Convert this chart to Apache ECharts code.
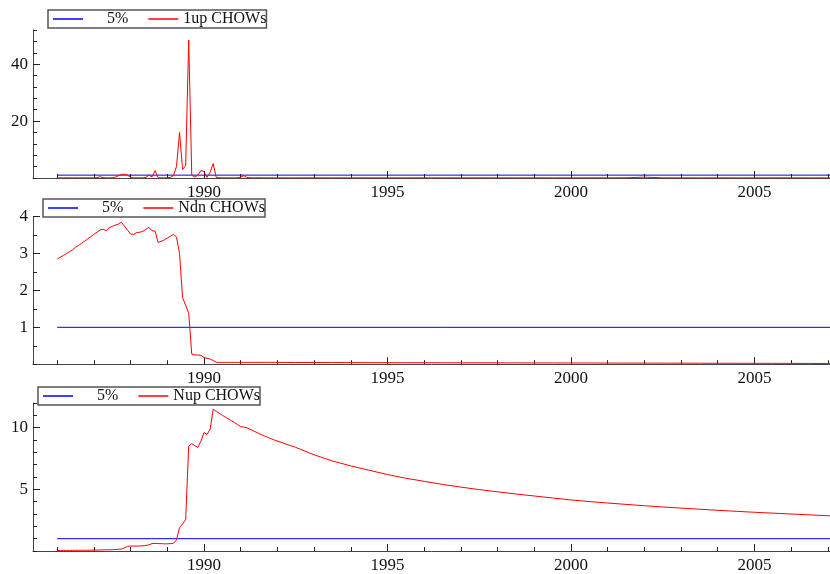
<!DOCTYPE html>
<html><head><meta charset="utf-8">
<script src="https://cdn.jsdelivr.net/npm/echarts@6/dist/echarts.min.js"></script>
<style>html,body{margin:0;padding:0;background:#fff}#c{width:830px;height:574px}</style>
</head><body><div id="c"></div>
<script>
// ---- data ----
const startYear = 1986;            // first monthly observation: 1986(1)
const critYears = [1986, 2007.08]; // 5% critical value line (scaled to 1)
const crit5 = [1, 1];
// tail observations (read at half-year steps after 1992)
const tailYears = [1992.5, 1993, 1993.5, 1994, 1994.5, 1995, 1995.5, 1996, 1996.5, 1997,
  1997.5, 1998, 1998.5, 1999, 1999.5, 2000, 2000.5, 2001, 2001.5, 2002,
  2002.5, 2003, 2003.5, 2004, 2004.5, 2005, 2005.5, 2006, 2006.5, 2007, 2007.08];

// 1-step (1up) Chow tests, monthly 1986(1)-1991(12)
const upMonthly = [
  0.08, 0.05, 0.06, 0.1, 0.05, 0.06, 0.08, 0.05, 0.06, 0.1, 0.05, 0.06,
  0.05, 0.1, 0.45, 0.15, 0.05, 0.05, 0.1, 0.3, 0.8, 1.3, 1.3, 1.1,
  0.15, 0.05, 0.1, 0.05, 0.05, 0.2, 1.0, 0.4, 2.6, 0.1, 0.05, 0.05,
  0.1, 0.2, 0.8, 4.0, 16.0, 3.0, 4.3, 48.5, 1.0, 0.3, 1.0, 2.6,
  2.3, 0.2, 2.0, 5.1, 0.2, 0.1, 0.05, 0.05, 0.1, 0.05, 0.05, 0.1,
  0.3, 0.8, 0.2, 0.1, 0.05, 0.05, 0.1, 0.05, 0.05, 0.05, 0.1, 0.05];
const upTail = [0.05, 0.06, 0.05, 0.05, 0.06, 0.05, 0.05, 0.06, 0.05, 0.05,
  0.06, 0.05, 0.05, 0.06, 0.05, 0.05, 0.06, 0.05, 0.08, 0.3, 0.06, 0.05,
  0.05, 0.06, 0.05, 0.05, 0.06, 0.05, 0.05, 0.05, 0.05];

// break-point (Ndn) Chow tests
const ndnMonthly = [
  2.85, 2.9, 2.95, 3.0, 3.05, 3.1, 3.17, 3.22, 3.28, 3.34, 3.4, 3.46,
  3.52, 3.58, 3.64, 3.66, 3.62, 3.7, 3.74, 3.77, 3.8, 3.85, 3.74, 3.63,
  3.53, 3.52, 3.57, 3.58, 3.6, 3.66, 3.71, 3.62, 3.61, 3.3, 3.33, 3.37,
  3.42, 3.47, 3.52, 3.45, 3.0, 1.8, 1.6, 1.38, 0.27, 0.25, 0.25, 0.24,
  0.18, 0.16, 0.14, 0.1, 0.05, 0.05, 0.05, 0.05, 0.05, 0.05, 0.05, 0.05,
  0.05, 0.05, 0.05, 0.05, 0.05, 0.05, 0.05, 0.05, 0.05, 0.05, 0.05, 0.05];
const ndnTail = [0.045, 0.045, 0.044, 0.043, 0.042, 0.041, 0.04, 0.04, 0.039, 0.038,
  0.037, 0.036, 0.035, 0.034, 0.034, 0.033, 0.032, 0.031, 0.03, 0.03,
  0.029, 0.028, 0.027, 0.026, 0.025, 0.024, 0.023, 0.022, 0.021, 0.02, 0.02];

// forecast (Nup) Chow tests
const nupMonthly = [
  0.05, 0.05, 0.05, 0.05, 0.05, 0.05, 0.06, 0.06, 0.06, 0.06, 0.06, 0.07,
  0.07, 0.08, 0.08, 0.09, 0.1, 0.1, 0.11, 0.12, 0.14, 0.16, 0.25, 0.38,
  0.4, 0.4, 0.4, 0.41, 0.42, 0.45, 0.5, 0.6, 0.62, 0.6, 0.6, 0.58,
  0.58, 0.6, 0.62, 0.9, 1.9, 2.2, 2.55, 8.5, 8.7, 8.55, 8.4, 8.9,
  9.6, 9.45, 9.87, 11.49, 11.33, 11.17, 11.0, 10.85, 10.7, 10.55, 10.4, 10.25,
  10.08, 10.05, 10.0, 9.88, 9.76, 9.64, 9.52, 9.41, 9.3, 9.2, 9.1, 9.0];
const nupTail = [8.4, 7.8, 7.3, 6.9, 6.55, 6.2, 5.9, 5.65, 5.4, 5.18,
  4.98, 4.8, 4.62, 4.46, 4.3, 4.14, 4.01, 3.89, 3.78, 3.67,
  3.57, 3.48, 3.39, 3.3, 3.22, 3.14, 3.07, 3.0, 2.93, 2.86, 2.84];

const minorYearTicks = [1986, 1987, 1988, 1989, 1990, 1991, 1992, 1993, 1994, 1995, 1996,
  1997, 1998, 1999, 2000, 2001, 2002, 2003, 2004, 2005, 2006, 2007];
const majorYearTicks = [1990, 1995, 2000, 2005];
const yLabels = [[20, 40], [1, 2, 3, 4], [5, 10]];
const yMax = [52, 4, 12];
const yMinorStep = [4, 0.5, 1];
const redNames = ['1up CHOWs', 'Ndn CHOWs', 'Nup CHOWs'];

// ---- build ----
function build(monthly, tail) {
  const out = monthly.map((v, i) => [startYear + i / 12, v]);
  tail.forEach((v, i) => out.push([tailYears[i], v]));
  return out;
}
const redData = [build(upMonthly, upTail), build(ndnMonthly, ndnTail), build(nupMonthly, nupTail)];
const critData = critYears.map((x, i) => [x, crit5[i]]);

const FONT = 'Liberation Serif';
const AX = '#444';
const xMin = 1985.34, xMax = 2007.06;
const grids = [
  {left: 33, right: 0, top: 30, height: 148},
  {left: 33, right: 0, top: 216.7, height: 147.5},
  {left: 33, right: 0, top: 403, height: 148}
];
const xAxis = [], yAxis = [], series = [];
grids.forEach((g, i) => {
  xAxis.push({type: 'value', gridIndex: i, min: xMin, max: xMax, position: 'bottom',
    axisLine: {show: true, onZero: false, lineStyle: {color: AX, width: 1}},
    axisTick: {show: true, inside: true, length: 7, customValues: majorYearTicks, lineStyle: {color: '#222', width: 1}},
    axisLabel: {show: true, customValues: majorYearTicks, formatter: v => String(v), fontFamily: FONT, fontSize: 17, color: '#111', margin: 6},
    splitLine: {show: false}});
  xAxis.push({type: 'value', gridIndex: i, min: xMin, max: xMax, position: 'bottom',
    axisLine: {show: false},
    axisTick: {show: true, inside: true, length: 4, customValues: minorYearTicks, lineStyle: {color: '#222', width: 1}},
    axisLabel: {show: false}, splitLine: {show: false}});
  yAxis.push({type: 'value', gridIndex: i, min: 0, max: yMax[i], position: 'left',
    axisLine: {show: true, onZero: false, lineStyle: {color: AX, width: 1}},
    axisTick: {show: true, inside: true, length: 7, customValues: yLabels[i], lineStyle: {color: '#222', width: 1}},
    axisLabel: {show: true, customValues: yLabels[i], formatter: v => String(v), fontFamily: FONT, fontSize: 17, color: '#111', margin: 5},
    splitLine: {show: false}});
  yAxis.push({type: 'value', gridIndex: i, min: 0, max: yMax[i], interval: yMinorStep[i], position: 'left',
    axisLine: {show: false},
    axisTick: {show: true, inside: true, length: 4, lineStyle: {color: '#222', width: 1}},
    axisLabel: {show: false}, splitLine: {show: false}});
  series.push({type: 'line', name: '5%', xAxisIndex: 2 * i, yAxisIndex: 2 * i, data: critData,
    showSymbol: false, color: '#0000ff', lineStyle: {width: 1, color: '#0000ff'}, z: 3});
  series.push({type: 'line', name: redNames[i], xAxisIndex: 2 * i, yAxisIndex: 2 * i, data: redData[i],
    showSymbol: false, color: '#ff0000', lineStyle: {width: 1, color: '#ff0000'}, z: 4});
});
const legendPos = [[48, 10], [43, 199], [38, 387]];
const legend = legendPos.map((p, i) => ({
  data: ['5%', redNames[i]], left: p[0], top: p[1], orient: 'horizontal',
  icon: 'rect', itemWidth: 30, itemHeight: 1.5, itemGap: 20,
  borderColor: '#555', borderWidth: 1.5, backgroundColor: '#fff', padding: [1, 0, 1, 5],
  selectedMode: false,
  formatter: n => n === '5%' ? '{p|5%}' : n,
  textStyle: {fontFamily: FONT, fontSize: 16, color: '#111',
    rich: {p: {fontFamily: FONT, fontSize: 16, color: '#111', padding: [0, 0, 0, 19]}}}
}));

const chart = echarts.init(document.getElementById('c'), null, {renderer: 'canvas'});
chart.setOption({animation: false, backgroundColor: '#fff', grid: grids, xAxis, yAxis, series, legend});
</script></body></html>
